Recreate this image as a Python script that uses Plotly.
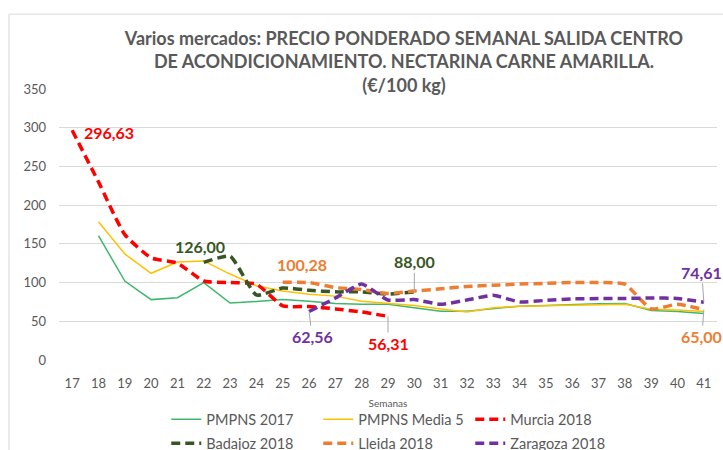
import plotly.graph_objects as go

# Weekly weighted price, nectarine (yellow flesh), €/100 kg
weeks = list(range(17, 42))

pmpns_2017 = [None, 160.5, 102, 78, 80.5, 100, 73.5, 75.5, 78, 76, 73, 72, 72,
              67.5, 63, 63, 66.5, 69.5, 70.5, 72, 72.8, 73, 64, 62.5, 60]
pmpns_media5 = [None, 178.5, 137, 112, 126.5, 128, 111, 96, 89, 85, 82.5, 76, 73,
                70.5, 66, 62, 67.5, 69.5, 70, 70.5, 71, 72, 65.5, 64.5, 62.5]
murcia_2018 = [296.63, 230, 162, 132, 125, 102, 100, 98, 70, 69, 66, 62, 56.31,
               None, None, None, None, None, None, None, None, None, None, None, None]
badajoz_2018 = [None, None, None, None, None, 126.00, 134, 84, 93, 90, 88, 88, 85,
                88.00, None, None, None, None, None, None, None, None, None, None, None]
lleida_2018 = [None, None, None, None, None, None, None, None, 100.28, 100, 93.5, 91, 86,
               89, 92, 95, 96.5, 98, 99, 100, 100, 98, 66, 72, 65.00]
zaragoza_2018 = [None, None, None, None, None, None, None, None, None, 62.56, 80, 98, 77.5,
                 78, 72, 77.5, 83.5, 75, 77, 79, 79.3, 79.5, 80, 79.5, 74.61]

y_ticks = [0, 50, 100, 150, 200, 250, 300, 350]

GREY = "#595959"
FONT = "Lato"

C_2017 = "#3DB86B"
C_MEDIA = "#FFC000"
C_MURCIA = "#FF0000"
C_BADAJOZ = "#375623"
C_LLEIDA = "#ED7D31"
C_ZARAGOZA = "#7030A0"

DASH = "9px,5px"

fig = go.Figure()

def add_line(name, values, color, width, dash=None, legend="legend", smooth=False):
    fig.add_trace(go.Scatter(
        x=weeks, y=values, name=name, mode="lines",
        line=dict(color=color, width=width, dash=dash or "solid",
                  shape="spline" if smooth else "linear", smoothing=0.5),
        connectgaps=False, legend=legend, hoverinfo="x+y+name",
    ))

add_line("PMPNS 2017", pmpns_2017, C_2017, 1.5)
add_line("PMPNS Media 5", pmpns_media5, C_MEDIA, 1.5)
add_line("Murcia 2018", murcia_2018, C_MURCIA, 3.5, DASH, smooth=True)
add_line("Badajoz 2018", badajoz_2018, C_BADAJOZ, 3.5, DASH, legend="legend2", smooth=True)
add_line("Lleida 2018", lleida_2018, C_LLEIDA, 3.5, DASH, legend="legend2", smooth=True)
add_line("Zaragoza 2018", zaragoza_2018, C_ZARAGOZA, 3.5, DASH, legend="legend2", smooth=True)


def fmt(v):
    return f"{v:.2f}".replace(".", ",")


def value_label(series, week, color, dx, dy, leader):
    v = series[weeks.index(week)]
    common = dict(x=week, y=v, text=f"<b>{fmt(v)}</b>", xanchor="center", yanchor="middle",
                  font=dict(family=FONT, size=16, color=color))
    if leader:
        fig.add_annotation(**common, showarrow=True, arrowhead=0, arrowwidth=1,
                           arrowcolor="#A6A6A6", ax=dx, ay=dy, standoff=0)
    else:
        fig.add_annotation(**common, showarrow=False, xshift=dx, yshift=-dy)


value_label(murcia_2018, 17, C_MURCIA, 37, 2, False)
value_label(badajoz_2018, 22, C_BADAJOZ, -4, -16, False)
value_label(lleida_2018, 25, C_LLEIDA, 19, -18, False)
value_label(zaragoza_2018, 26, C_ZARAGOZA, 3, 25, True)
value_label(murcia_2018, 29, C_MURCIA, 0, 27, True)
value_label(badajoz_2018, 30, C_BADAJOZ, 0, -30, True)
value_label(zaragoza_2018, 41, C_ZARAGOZA, -2, -30, True)
value_label(lleida_2018, 41, C_LLEIDA, -2, 27, True)

# chart frame
fig.add_shape(type="rect", xref="paper", yref="paper",
              x0=-0.076, x1=1.2, y0=-0.6, y1=1.276,
              line=dict(color="#D9D9D9", width=1), fillcolor="rgba(0,0,0,0)", layer="below")

fig.update_layout(
    width=723, height=450,
    margin=dict(l=59, r=6, t=89, b=89.5, autoexpand=False),
    paper_bgcolor="white", plot_bgcolor="white",
    font=dict(family=FONT, color=GREY, size=13),
    title=dict(
        text="<b>Varios mercados: PRECIO PONDERADO SEMANAL SALIDA CENTRO<br>"
             "DE ACONDICIONAMIENTO. NECTARINA CARNE AMARILLA.<br>(€/100 kg)</b>",
        x=404 / 723, xanchor="center", xref="container",
        y=1 - 45 / 450, yanchor="top", yref="container",
        font=dict(family=FONT, size=18, color=GREY),
    ),
    xaxis=dict(
        range=[16.5, 41.5], tickmode="array", tickvals=weeks,
        ticktext=[str(w) for w in weeks], showgrid=False, zeroline=False,
        showline=False, ticks="", ticklabelstandoff=14, automargin=False,
        tickfont=dict(size=13, color=GREY),
        title=dict(text="Semanas", font=dict(size=10, color=GREY), standoff=9),
    ),
    yaxis=dict(
        range=[0, 350], tickvals=y_ticks, showgrid=True, gridcolor="#D9D9D9",
        gridwidth=1, zeroline=False, showline=False, ticks="", automargin=False,
        ticklabelstandoff=12, tickfont=dict(size=13, color=GREY),
    ),
    legend=dict(orientation="h", x=0.163, xanchor="left", y=-0.219, yanchor="middle",
                entrywidth=107, entrywidthmode="pixels", font=dict(size=14.5, color=GREY),
                bgcolor="rgba(0,0,0,0)"),
    legend2=dict(orientation="h", x=0.163, xanchor="left", y=-0.3076, yanchor="middle",
                 entrywidth=107, entrywidthmode="pixels", font=dict(size=14.5, color=GREY),
                 bgcolor="rgba(0,0,0,0)"),
    showlegend=True,
)

fig.write_html("out.html")
